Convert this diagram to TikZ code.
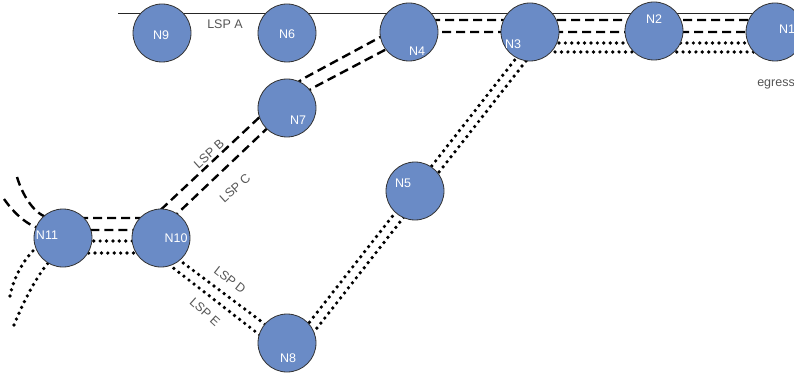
\documentclass[tikz,border=0pt]{standalone}
\usepackage{fontspec}
\setmainfont{Liberation Sans}
\usetikzlibrary{backgrounds,calc}
\definecolor{nodeblue}{RGB}{106,139,198}
\definecolor{lblgray}{RGB}{85,85,85}
\tikzset{
  router/.style={circle, draw=black!80, line width=0.8pt, fill=nodeblue, minimum size=58pt, inner sep=0pt},
  rtext/.style={text=white, font=\fontsize{12.5}{14}\selectfont, inner sep=0pt},
  lsptext/.style={text=lblgray, font=\fontsize{12.5}{14}\selectfont, inner sep=0pt},
  dashlsp/.style={line width=2.4pt, dash pattern=on 9pt off 5pt, rounded corners=10pt},
  dotlsp/.style={line width=3.7pt, line cap=round, dash pattern=on 0pt off 6.4pt, rounded corners=10pt},
  topline/.style={line width=0.9pt, draw=black!85},
}
\begin{document}
\begin{tikzpicture}[x=1pt,y=-1pt]
\useasboundingbox (0,0) rectangle (794,374);
% routers
\node[router] (N9) at (162,33) {};
\node[router] (N6) at (287,33) {};
\node[router] (N4) at (409,32) {};
\node[router] (N3) at (530,32) {};
\node[router] (N2) at (654,31) {};
\node[router] (N1) at (775,32) {};
\node[router] (N7) at (287,108) {};
\node[router] (N5) at (415,191) {};
\node[router] (N8) at (287,343) {};
\node[router] (N11) at (63,238) {};
\node[router] (N10) at (161,238) {};
% router labels
\node[rtext] at ($(N9)+(-1,2)$) {N9};
\node[rtext] at ($(N6)+(0,1)$) {N6};
\node[rtext] at ($(N4)+(8,19)$) {N4};
\node[rtext] at ($(N3)+(-17,12)$) {N3};
\node[rtext] at ($(N2)+(0,-12)$) {N2};
\node[rtext] at ($(N1)+(12,-3)$) {N1};
\node[rtext] at ($(N7)+(11,12)$) {N7};
\node[rtext] at ($(N5)+(-12,-8)$) {N5};
\node[rtext] at ($(N8)+(1,15)$) {N8};
\node[rtext] at ($(N11)+(-16,-3)$) {N11};
\node[rtext] at ($(N10)+(15,0)$) {N10};
% LSP labels
\node[lsptext] (lA) at (225,24) {LSP A};
\node[lsptext, rotate=42] (lB) at (209,154) {LSP B};
\node[lsptext, rotate=42] (lC) at (235,188) {LSP C};
\node[lsptext, rotate=-38] (lD) at (230,280) {LSP D};
\node[lsptext, rotate=-42] (lE) at (205,312) {LSP E};
\node[lsptext] (eg) at (776,84) {egress};
% paths behind the routers
\begin{pgfonlayer}{background}
\coordinate (topL) at (118,13);
\coordinate (topR) at (800,13);
\draw[topline] (topL) -- (topR);
% LSP B (dashed, upper)
\draw[dashlsp] (17,177) .. controls (24,200) and (38,218) .. (62,218) -- (152,218) -- (297,82) -- (412,20) -- (800,20);
% LSP C (dashed, lower)
\draw[dashlsp] (4,199) .. controls (16,216) and (32,230) .. (60,230) -- (160,230) -- (306,91.5) -- (419,32) -- (800,32);
% LSP D (dotted)
\draw[dotlsp] (10,296) .. controls (14,272) and (35,241) .. (60,241) -- (154,241) -- (292,344.5) -- (528,43) -- (800,43);
% LSP E (dotted)
\draw[dotlsp] (14,325) .. controls (28,290) and (50,253) .. (72,253) -- (154,253) -- (292,360) -- (533,52) -- (800,52);
\end{pgfonlayer}
\end{tikzpicture}
\end{document}
